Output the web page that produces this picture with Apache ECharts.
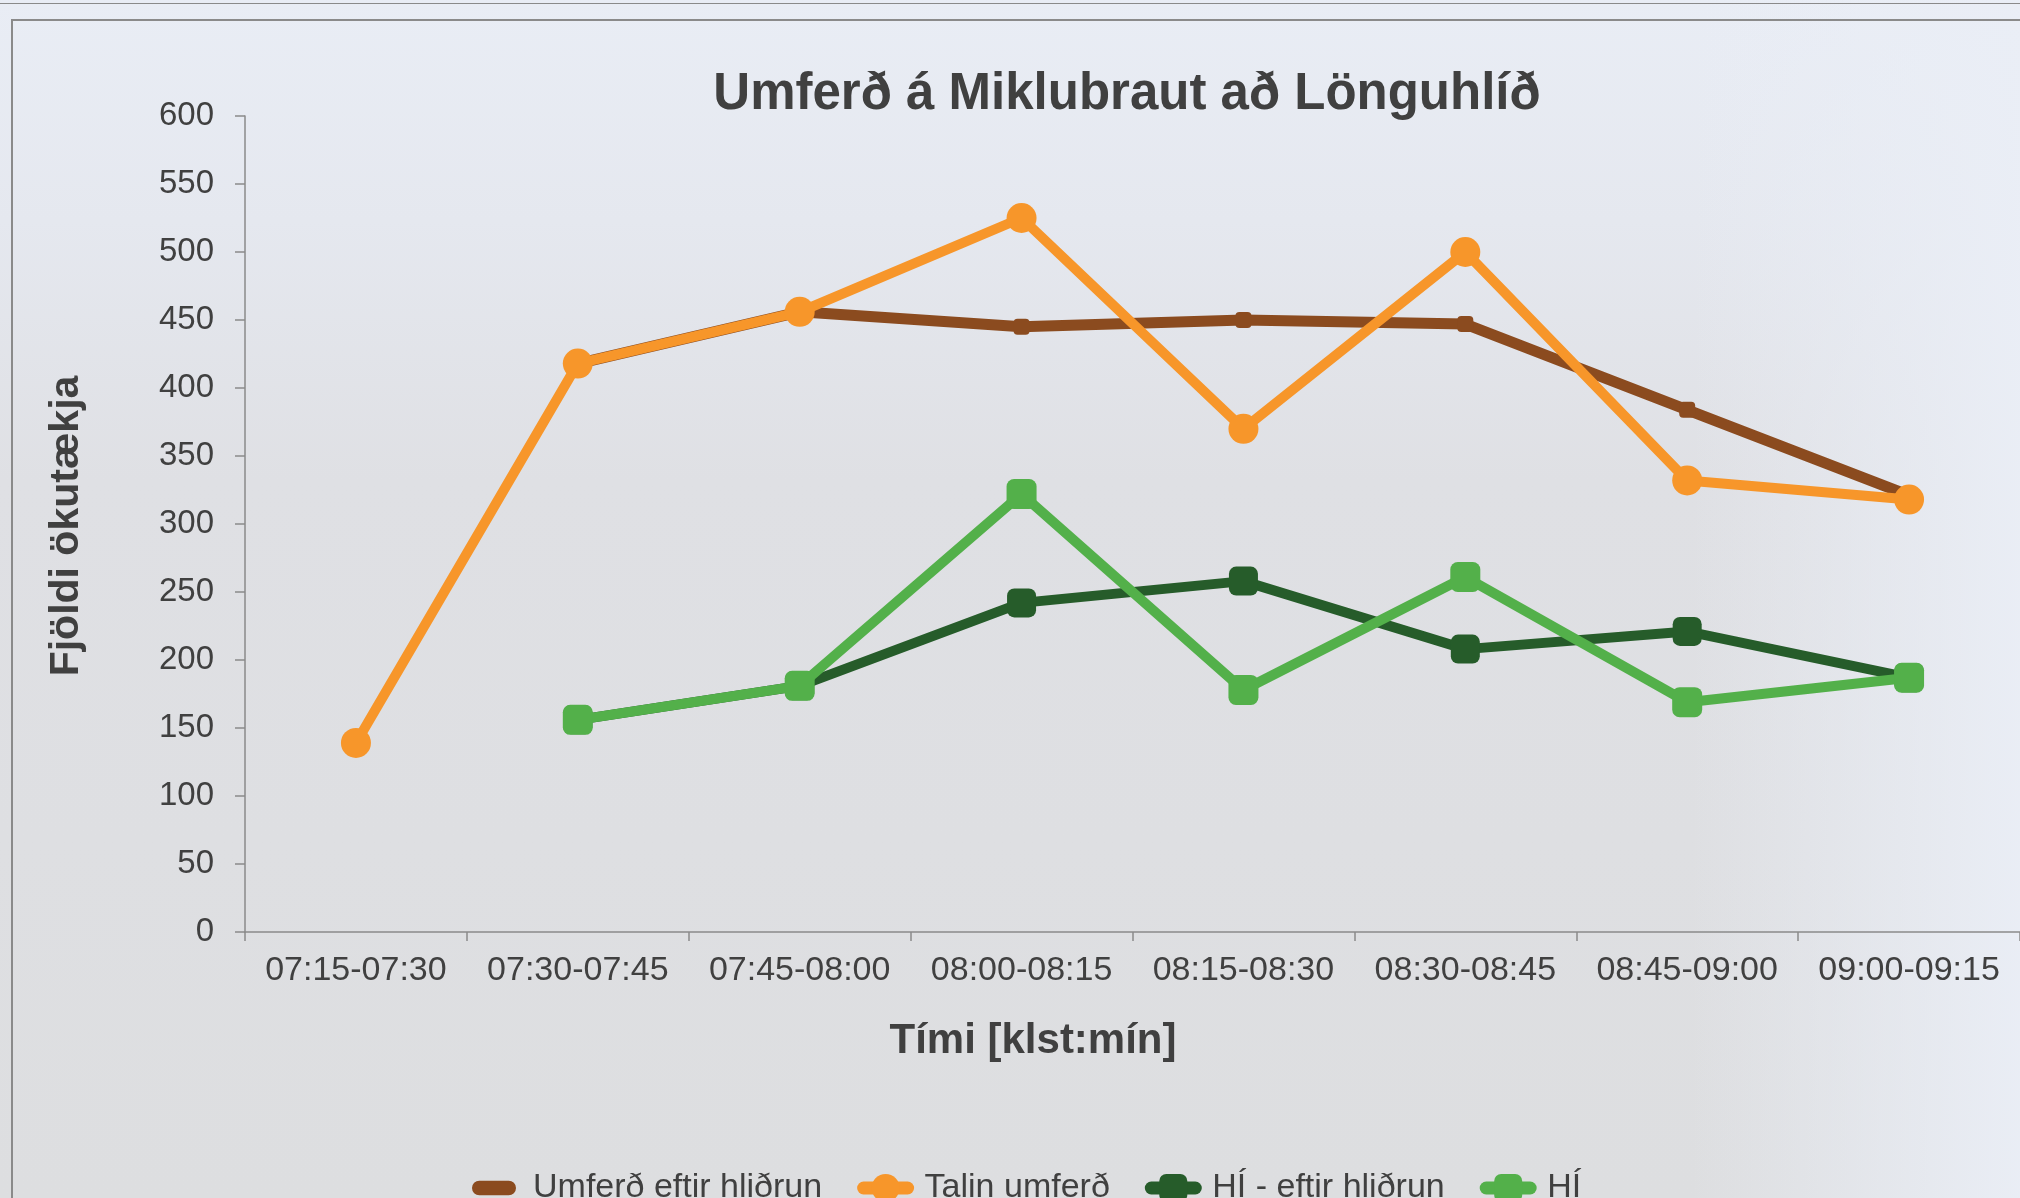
<!DOCTYPE html>
<html>
<head>
<meta charset="utf-8">
<script src="https://cdn.jsdelivr.net/npm/echarts@6/dist/echarts.min.js"></script>
<style>
html,body{margin:0;padding:0;width:2020px;height:1198px;overflow:hidden;}
#bg{position:absolute;left:0;top:0;width:2020px;height:1198px;
background:
 linear-gradient(to left, rgba(234,238,246,0.95) 0px, rgba(234,238,246,0.6) 120px, rgba(234,238,246,0) 330px),
 linear-gradient(to bottom, #E9EDF5 0px, #E5E8EF 220px, #DFE0E4 480px, #DDDEE0 1198px);}
#chart{position:absolute;left:0;top:0;width:2020px;height:1198px;}
</style>
</head>
<body>
<div id="bg"></div>
<div id="chart"></div>
<script>
const categories = ['07:15-07:30','07:30-07:45','07:45-08:00','08:00-08:15','08:15-08:30','08:30-08:45','08:45-09:00','09:00-09:15'];
const umferdEftirHlidrun = [null, 418, 456, 445, 450, 447, 384, 321];
const talinUmferd = [139, 418, 456, 525, 370, 500, 332, 318];
const hiEftirHlidrun = [null, 156, 181, 242, 258, 208, 221, 187];
const hi = [null, 156, 181, 322, 178, 261, 169, 187];
const seriesNames = ['Umferð eftir hliðrun', 'Talin umferð', 'HÍ - eftir hliðrun', 'HÍ'];
const titleText = 'Umferð á Miklubraut að Lönguhlíð';
const xTitle = 'Tími [klst:mín]';
const yTitle = 'Fjöldi ökutækja';

const FONT = '"Liberation Sans", Arial, sans-serif';
const TXT = '#404040';
const AX = '#8a8a8a';

const chart = echarts.init(document.getElementById('chart'), null, {renderer: 'canvas'});
chart.setOption({
  backgroundColor: 'transparent',
  animation: false,
  textStyle: {fontFamily: FONT},
  grid: {left: 245, top: 116, right: 0, bottom: 266, containLabel: false},
  xAxis: {
    type: 'category',
    data: categories,
    boundaryGap: true,
    axisLine: {show: true, lineStyle: {color: AX, width: 1.5}},
    axisTick: {show: true, length: 9, lineStyle: {color: AX, width: 1.5}},
    axisLabel: {color: TXT, fontSize: 34, margin: 22, fontFamily: FONT, interval: 0}
  },
  yAxis: {
    type: 'value',
    min: 0, max: 600, interval: 50,
    axisLine: {show: true, lineStyle: {color: AX, width: 1.5}},
    axisTick: {show: true, length: 10, lineStyle: {color: AX, width: 1.5}},
    axisLabel: {color: TXT, fontSize: 33, margin: 31, fontFamily: FONT},
    splitLine: {show: false}
  },
  legend: {
    left: 467, top: 1166,
    itemWidth: 44, itemHeight: 35, itemGap: 35,
    textStyle: {color: TXT, fontSize: 34, fontFamily: FONT, padding: [0, 0, 0, 12]},
    lineStyle: {width: 13, cap: 'round'},
    data: [
      {name: seriesNames[0], icon: 'path://M7,0 L35,0 A7,7 0 0 1 35,14 L7,14 A7,7 0 0 1 7,0 Z'},
      {name: seriesNames[1]},
      {name: seriesNames[2]},
      {name: seriesNames[3]}
    ]
  },
  graphic: [
    {type: 'rect', silent: true, shape: {x: -5, y: 3, width: 2040, height: 1}, style: {fill: AX}},
    {type: 'rect', silent: true, shape: {x: 12, y: 20, width: 2020, height: 1200}, style: {fill: 'transparent', stroke: AX, lineWidth: 2}},
    {type: 'text', silent: true,
      style: {text: titleText, x: 1127, y: 95, textAlign: 'center', textVerticalAlign: 'middle', fill: TXT, font: 'bold 51px ' + FONT}},
    {type: 'text', silent: true,
      style: {text: xTitle, x: 1033, y: 1041, textAlign: 'center', textVerticalAlign: 'middle', fill: TXT, font: 'bold 42px ' + FONT}},
    {type: 'text', silent: true, x: 67, y: 526, rotation: Math.PI / 2,
      style: {text: yTitle, x: 0, y: 0, textAlign: 'center', textVerticalAlign: 'middle', fill: TXT, font: 'bold 41px ' + FONT}}
  ],
  series: [
    {
      name: seriesNames[0], type: 'line', data: umferdEftirHlidrun,
      symbol: 'roundRect', symbolSize: 16, showSymbol: true,
      lineStyle: {color: '#8B4B1F', width: 11, join: 'round'},
      itemStyle: {color: '#8B4B1F'}, z: 2
    },
    {
      name: seriesNames[1], type: 'line', data: talinUmferd,
      symbol: 'circle', symbolSize: 30,
      lineStyle: {color: '#F7962A', width: 10, join: 'round'},
      itemStyle: {color: '#F7962A'}, z: 3
    },
    {
      name: seriesNames[2], type: 'line', data: hiEftirHlidrun,
      symbol: 'roundRect', symbolSize: 29,
      lineStyle: {color: '#265C2A', width: 10, join: 'round'},
      itemStyle: {color: '#265C2A'}, z: 4
    },
    {
      name: seriesNames[3], type: 'line', data: hi,
      symbol: 'roundRect', symbolSize: 30,
      lineStyle: {color: '#53B04A', width: 10, join: 'round'},
      itemStyle: {color: '#53B04A'}, z: 5
    }
  ]
});
</script>
</body>
</html>
